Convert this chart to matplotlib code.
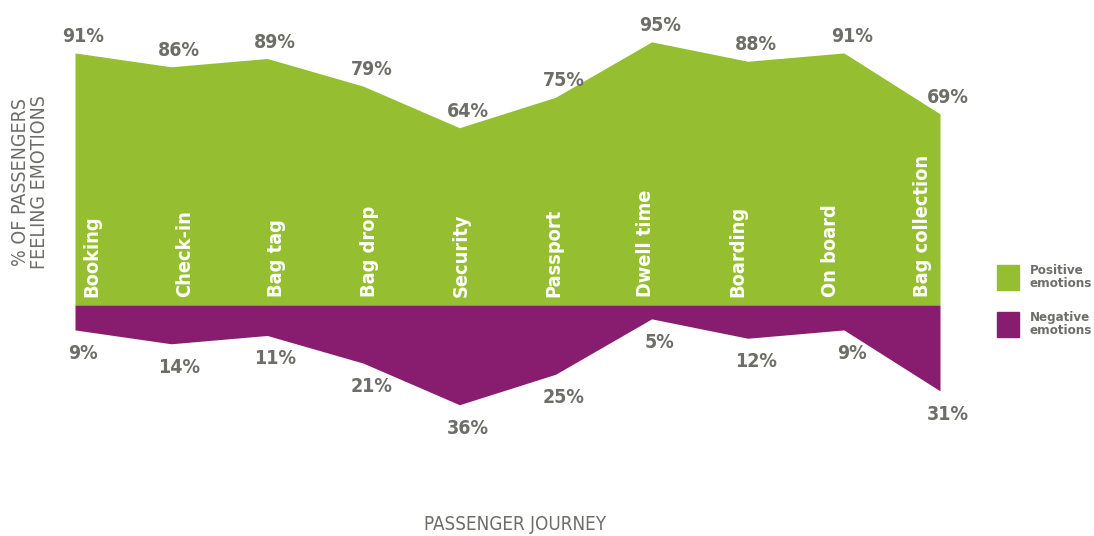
import matplotlib
matplotlib.use("Agg")
import matplotlib.pyplot as plt
from matplotlib.patches import Rectangle
import numpy as np

categories = ["Booking", "Check-in", "Bag tag", "Bag drop", "Security",
              "Passport", "Dwell time", "Boarding", "On board", "Bag collection"]
positive = [91, 86, 89, 79, 64, 75, 95, 88, 91, 69]
negative = [9, 14, 11, 21, 36, 25, 5, 12, 9, 31]

GREEN = "#95bf31"
PURPLE = "#881c6f"
GRAY = "#6e6e68"
FONT = ["DejaVu Sans"]
ST = "condensed"

W, H = 1094, 536
fig = plt.figure(figsize=(W / 100, H / 100), dpi=100)
ppu = 2.77
ax = fig.add_axes([75 / W, 0, 865 / W, 1])
ax.set_xlim(0, len(categories) - 1)
ax.set_ylim(-(H - 305) / ppu, 305 / ppu)
ax.axis("off")

x = np.arange(len(categories))
ax.fill_between(x, 0, positive, color=GREEN, lw=0)
ax.fill_between(x, 0, -np.array(negative), color=PURPLE, lw=0)

px_unit = 865 / (len(categories) - 1)
for i, (c, p, n) in enumerate(zip(categories, positive, negative)):
    lx = 0.18 + i * 0.96
    ax.text(lx, 3, c, rotation=90, ha="center", va="bottom",
            color="white", fontsize=14.3, fontweight="bold", family=FONT, fontstretch=ST)
    ax.text(i + 8 / px_unit, p + 2.5, f"{p}%", ha="center", va="bottom",
            color=GRAY, fontsize=14, fontweight="bold", family=FONT, fontstretch=ST)
    ax.text(i + 8 / px_unit, -n - 5, f"{n}%", ha="center", va="top",
            color=GRAY, fontsize=14, fontweight="bold", family=FONT, fontstretch=ST)

fig.text(30 / W, 1 - 182 / H, "% OF PASSENGERS\nFEELING EMOTIONS", rotation=90,
         ha="center", va="center", color=GRAY, fontsize=14, family=FONT,
         fontstretch=ST, linespacing=1.0)
fig.text(515 / W, 1 - 524 / H, "PASSENGER JOURNEY", ha="center", va="center",
         color=GRAY, fontsize=13.5, family=FONT, fontstretch=ST)

for y0, col, lab in [(265, GREEN, "Positive\nemotions"), (312, PURPLE, "Negative\nemotions")]:
    fig.patches.append(Rectangle((997 / W, 1 - (y0 + 25) / H), 22 / W, 25 / H,
                                 transform=fig.transFigure, color=col))
    fig.text(1030 / W, 1 - (y0 + 12) / H, lab, ha="left", va="center", color=GRAY,
             fontsize=9.5, fontweight="bold", family=FONT, fontstretch=ST,
             linespacing=1.0)

fig.savefig("out.png", dpi=100, facecolor="white")
